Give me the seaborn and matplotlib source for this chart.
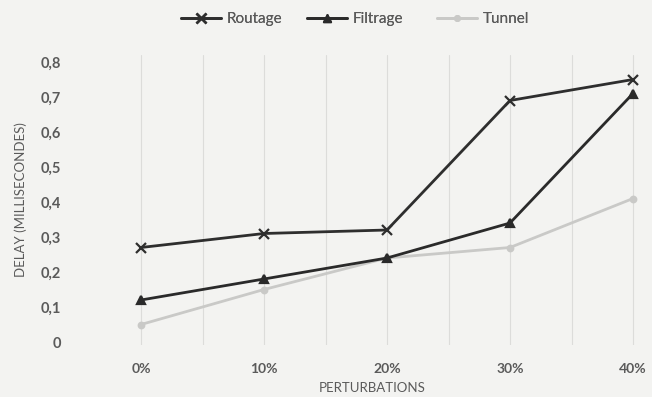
import matplotlib
matplotlib.use("Agg")
import matplotlib.pyplot as plt
import seaborn as sns
import pandas as pd
import numpy as np
from matplotlib.lines import Line2D

categories = ["0%", "10%", "20%", "30%", "40%"]
routage = [0.27, 0.31, 0.32, 0.69, 0.75]
filtrage = [0.12, 0.18, 0.24, 0.34, 0.71]
tunnel = [0.05, 0.15, 0.24, 0.27, 0.41]
y_ticks = [0, 0.1, 0.2, 0.3, 0.4, 0.5, 0.6, 0.7, 0.8]
y_tick_labels = ["0", "0,1", "0,2", "0,3", "0,4", "0,5", "0,6", "0,7", "0,8"]
series_names = ["Routage", "Filtrage", "Tunnel"]

sns.set_theme(style="white")
plt.rcParams["font.family"] = ["Lato", "DejaVu Sans"]

series_vals = {"Routage": routage, "Filtrage": filtrage, "Tunnel": tunnel}

bg = "#f3f3f1"
txt = "#5a5a5a"
fig = plt.figure(figsize=(6.52, 3.97), dpi=100, facecolor=bg)
ax = fig.add_axes([100/652, 52/397, 545/652, 290/397])
ax.set_facecolor(bg)

# vertical gridlines
for gx in np.arange(0, 4.01, 0.5):
    ax.axvline(gx, color="#dcdcda", lw=0.8, zorder=0)

palette = {"Routage": "#2e2e2e", "Filtrage": "#2a2a2a", "Tunnel": "#c9c9c7"}
markers = {"Routage": "x", "Filtrage": "^", "Tunnel": "o"}
msizes = {"Routage": 7, "Filtrage": 6, "Tunnel": 4}
order = ["Tunnel", "Filtrage", "Routage"]
for name in order:
    d = pd.DataFrame({"idx": range(len(categories)), "value": series_vals[name]})
    sns.lineplot(data=d, x="idx", y="value", color=palette[name],
                 marker=markers[name], markersize=msizes[name],
                 markeredgewidth=1.6, markeredgecolor=palette[name],
                 linewidth=2.0, ax=ax, legend=False)

ax.set_xlim(-41/123, 4 + 12/123)
ax.set_ylim(-3/350, 0.8 + 7/350)
ax.set_xticks(range(len(categories)))
ax.set_xticklabels(categories)
ax.set_yticks(y_ticks)
ax.set_yticklabels(y_tick_labels)
for s in ax.spines.values():
    s.set_visible(False)
ax.tick_params(axis="y", length=0, pad=28, labelsize=10.5, labelcolor=txt)
ax.tick_params(axis="x", length=0, pad=13, labelsize=10, labelcolor=txt)
for lab in ax.get_xticklabels() + ax.get_yticklabels():
    lab.set_fontweight("bold")
ax.set_xlabel("PERTURBATIONS", fontsize=9.5, color=txt, labelpad=5)
ax.set_ylabel("DELAY (MILLISECONDES)", fontsize=9.5, color=txt, labelpad=10)

handles = {
    "Routage": Line2D([], [], color=palette["Routage"], marker="x", lw=2, markersize=7, markeredgewidth=1.8),
    "Filtrage": Line2D([], [], color=palette["Filtrage"], marker="^", lw=2, markersize=6),
    "Tunnel": Line2D([], [], color=palette["Tunnel"], marker="o", lw=2, markersize=4),
}
starts = {"Routage": 178, "Filtrage": 304, "Tunnel": 434}
for name in series_names:
    leg = fig.legend([handles[name]], [name], loc="upper left",
                     bbox_to_anchor=(starts[name]/652, 1.0 - 9/397),
                     frameon=False, fontsize=11, labelcolor=txt,
                     handlelength=2.6, handletextpad=0.4, borderpad=0.2,
                     borderaxespad=0)
    fig.add_artist(leg)

fig.savefig("out.png", dpi=100, facecolor=bg)
